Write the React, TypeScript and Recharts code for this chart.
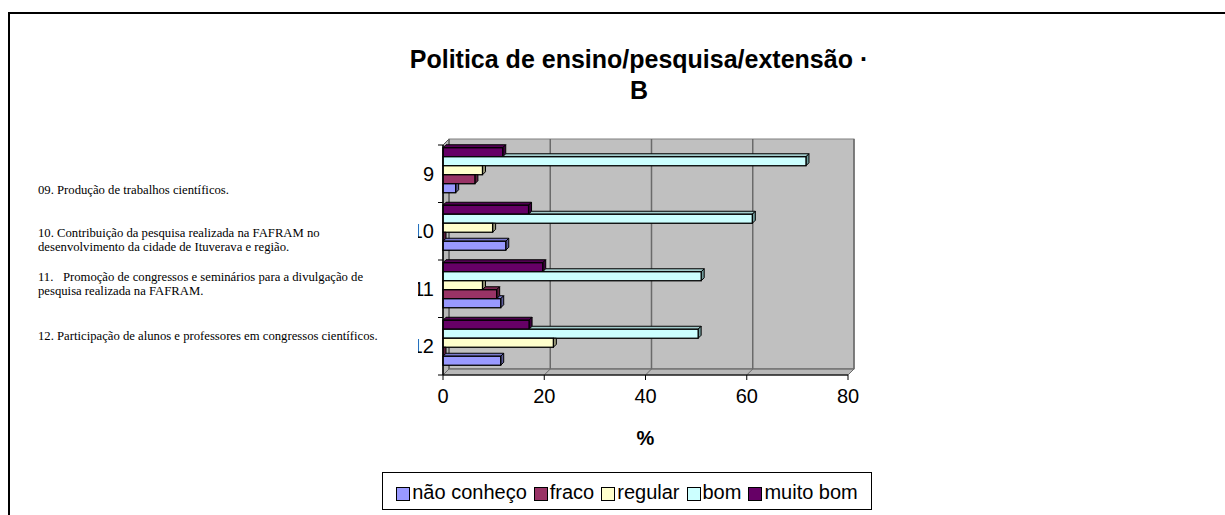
import React from 'react';
import { BarChart, Bar, XAxis, YAxis, CartesianGrid } from 'recharts';

// ---- data ----
const categories = ['9', '10', '11', '12'];
const naoConheco = [2.5, 12.4, 11.4, 11.4];
const fraco = [6.3, 0, 10.6, 0];
const regular = [7.8, 9.8, 7.8, 21.8];
const bom = [71.7, 61.1, 51.0, 50.4];
const muitoBom = [11.8, 16.9, 19.7, 17.0];
const xTicks = [0, 20, 40, 60, 80];

const questions: string[][] = [
  ['09. Produção de trabalhos científicos.'],
  ['10. Contribuição da pesquisa realizada na FAFRAM no', 'desenvolvimento da cidade de Ituverava e região.'],
  ['11.   Promoção de congressos e seminários para a divulgação de', 'pesquisa realizada na FAFRAM.'],
  ['12. Participação de alunos e professores em congressos científicos.'],
];

// legend order (bottom bar of each group first)
const series = [
  { key: 'naoConheco', name: 'não conheço', values: naoConheco, fill: '#9999FF', side: '#5c5c99', top: '#7a7acc' },
  { key: 'fraco', name: 'fraco', values: fraco, fill: '#993366', side: '#5c1f3d', top: '#7a2952' },
  { key: 'regular', name: 'regular', values: regular, fill: '#FFFFCC', side: '#99997a', top: '#cccca3' },
  { key: 'bom', name: 'bom', values: bom, fill: '#CCFFFF', side: '#6f9999', top: '#a3cccc' },
  { key: 'muitoBom', name: 'muito bom', values: muitoBom, fill: '#660066', side: '#3d003d', top: '#520052' },
];

// drawing order: top of each band first
const stack = [...series].reverse();

const data = categories.map((cat, i) => {
  const row: Record<string, string | number> = { cat };
  series.forEach((s) => {
    row[s.key] = s.values[i];
  });
  return row;
});

// ---- layout ----
const W = 1225;
const H = 515;
const PLOT_LEFT = 443;
const PLOT_RIGHT = 848;
const PLOT_TOP = 145;
const PLOT_BOTTOM = 375;
const Y_AXIS_W = 40;
const X_AXIS_H = 70;
const X_MAX = 80;
const DEPTH = 6; // depth of the 3-D box
const BAR_DEPTH = 3; // depth of each bar
const SANS = '"Liberation Sans", Arial, sans-serif';
const SERIF = '"Liberation Serif", "Times New Roman", serif';

const pxPerUnit = (PLOT_RIGHT - PLOT_LEFT) / X_MAX;

const makeBarShape = (idx: number) => (props: any) => {
  const { x, y, width, height, payload } = props;
  const s = stack[idx];
  const upper = idx > 0 ? stack[idx - 1] : null;
  const wUp = upper ? Number(payload[upper.key]) * pxPerUnit : null;
  const d = BAR_DEPTH;
  const yy = y - d;
  const right = x + width;
  const xs = wUp == null ? x : Math.min(x + wUp, right);
  const hideCorner = wUp != null && wUp >= width;
  const sidePts = hideCorner
    ? `${right},${yy} ${right + d},${yy} ${right + d},${yy + height - d} ${right},${yy + height}`
    : `${right},${yy} ${right + d},${yy - d} ${right + d},${yy + height - d} ${right},${yy + height}`;
  return (
    <g>
      {xs < right && (
        <polygon
          points={`${xs},${yy} ${right},${yy} ${right + d},${yy - d} ${xs + d},${yy - d}`}
          fill={s.top}
          stroke="#000"
          strokeWidth={1}
        />
      )}
      <polygon points={sidePts} fill={s.side} stroke="#000" strokeWidth={1} />
      <rect x={x} y={yy} width={width} height={height} fill={s.fill} stroke="#000" strokeWidth={1.3} />
    </g>
  );
};

const gridLine = (p: any) => (
  <g key={p.key ?? `${p.x1}`}>
    <line x1={p.x1 + DEPTH} y1={p.y1 - DEPTH} x2={p.x2 + DEPTH} y2={p.y2 - DEPTH} stroke="#6a6a6a" strokeWidth={1.5} />
    <line x1={p.x2 + DEPTH} y1={p.y2 - DEPTH} x2={p.x2} y2={p.y2} stroke="#6a6a6a" strokeWidth={1} />
  </g>
);

// baselines of the question lines
const questionBaselines = [[194], [236.5, 250.5], [280.5, 294.5], [340]];

export default function App() {
  const bandH = (PLOT_BOTTOM - PLOT_TOP) / categories.length;
  return (
    <div style={{ position: 'absolute', left: 0, top: 0, width: W, height: H, overflow: 'hidden', background: '#fff' }}>
      {/* frame */}
      <div
        style={{
          position: 'absolute',
          left: 8,
          top: 12,
          width: W,
          height: H,
          borderTop: '2px solid #000',
          borderLeft: '2px solid #000',
        }}
      />

      {/* walls and floor of the 3-D box */}
      <svg width={W} height={H} style={{ position: 'absolute', left: 0, top: 0 }}>
        <rect
          x={PLOT_LEFT + DEPTH}
          y={PLOT_TOP - DEPTH}
          width={PLOT_RIGHT - PLOT_LEFT}
          height={PLOT_BOTTOM - PLOT_TOP}
          fill="#c0c0c0"
          stroke="#808080"
        />
        <polygon
          points={`${PLOT_LEFT},${PLOT_TOP} ${PLOT_LEFT + DEPTH},${PLOT_TOP - DEPTH} ${PLOT_LEFT + DEPTH},${PLOT_BOTTOM - DEPTH} ${PLOT_LEFT},${PLOT_BOTTOM}`}
          fill="#b8b8b8"
          stroke="#555"
        />
        <polygon
          points={`${PLOT_LEFT},${PLOT_BOTTOM} ${PLOT_LEFT + DEPTH},${PLOT_BOTTOM - DEPTH} ${PLOT_RIGHT + DEPTH},${PLOT_BOTTOM - DEPTH} ${PLOT_RIGHT},${PLOT_BOTTOM}`}
          fill="#b8b8b8"
          stroke="#555"
        />
        {categories.map((c, i) => (
          <line key={c} x1={PLOT_LEFT - 5} x2={PLOT_LEFT} y1={PLOT_TOP + i * bandH} y2={PLOT_TOP + i * bandH} stroke="#000" />
        ))}
        <line x1={PLOT_LEFT - 5} x2={PLOT_LEFT} y1={PLOT_BOTTOM} y2={PLOT_BOTTOM} stroke="#000" />
      </svg>

      <div style={{ position: 'absolute', left: 0, top: 0 }}>
        <BarChart
          width={W}
          height={H}
          data={data}
          layout="vertical"
          barCategoryGap="10%"
          barGap={0}
          margin={{
            top: PLOT_TOP,
            left: PLOT_LEFT - Y_AXIS_W,
            right: W - PLOT_RIGHT,
            bottom: H - PLOT_BOTTOM - X_AXIS_H,
          }}
        >
          <CartesianGrid horizontal={false} vertical={gridLine} />
          <XAxis
            type="number"
            domain={[0, X_MAX]}
            ticks={xTicks}
            interval={0}
            height={X_AXIS_H}
            tickSize={5}
            tickMargin={9}
            axisLine={{ stroke: '#000' }}
            tickLine={{ stroke: '#000' }}
            tick={{ fill: '#000', fontSize: 20, fontFamily: SANS }}
            label={{
              value: '%',
              position: 'insideBottom',
              offset: 0,
              fill: '#000',
              fontSize: 20,
              fontWeight: 'bold',
              fontFamily: SANS,
            }}
          />
          <YAxis
            type="category"
            dataKey="cat"
            width={Y_AXIS_W}
            interval={0}
            tickSize={0}
            tickMargin={9}
            tickLine={false}
            axisLine={{ stroke: '#000', strokeWidth: 1.5 }}
            tick={{ fill: '#000', fontSize: 20, fontFamily: SANS }}
          />
          {stack.map((s, i) => (
            <Bar
              key={s.key}
              dataKey={s.key}
              name={s.name}
              fill={s.fill}
              isAnimationActive={false}
              shape={makeBarShape(i)}
            />
          ))}
        </BarChart>
      </div>

      {/* question text box, lying over the left edge of the category labels */}
      <svg width={W} height={H} style={{ position: 'absolute', left: 0, top: 0, pointerEvents: 'none' }}>
        <rect x={28} y={178} width={418 - 28} height={180} fill="#fff" />
        {questions.map((lines, qi) =>
          lines.map((line, li) => (
            <text
              key={`${qi}-${li}`}
              x={38}
              y={questionBaselines[qi][li]}
              fontFamily={SERIF}
              fontSize={12.7}
              fill="#000"
              style={{ whiteSpace: 'pre' }}
            >
              {line}
            </text>
          ))
        )}
      </svg>

      {/* title */}
      <div
        style={{
          position: 'absolute',
          left: 339,
          top: 44,
          width: 600,
          textAlign: 'center',
          fontFamily: SANS,
          fontWeight: 'bold',
          fontSize: 25,
          lineHeight: '31px',
          color: '#000',
        }}
      >
        <div>Politica de ensino/pesquisa/extensão ·</div>
        <div>B</div>
      </div>

      {/* legend */}
      <div
        style={{
          position: 'absolute',
          left: 382,
          top: 472,
          width: 490,
          height: 38,
          boxSizing: 'border-box',
          border: '1px solid #000',
          display: 'flex',
          alignItems: 'center',
          justifyContent: 'center',
          paddingTop: 2,
          fontFamily: SANS,
          fontSize: 20,
          color: '#000',
          whiteSpace: 'nowrap',
        }}
      >
        {series.map((s, i) => (
          <div key={s.key} style={{ display: 'flex', alignItems: 'center', marginRight: i < series.length - 1 ? 7 : 0 }}>
            <span
              style={{
                display: 'inline-block',
                width: 14,
                height: 14,
                boxSizing: 'border-box',
                background: s.fill,
                border: '1px solid #000',
                marginRight: 2,
                marginTop: 3,
              }}
            />
            <span>{s.name}</span>
          </div>
        ))}
      </div>
    </div>
  );
}
